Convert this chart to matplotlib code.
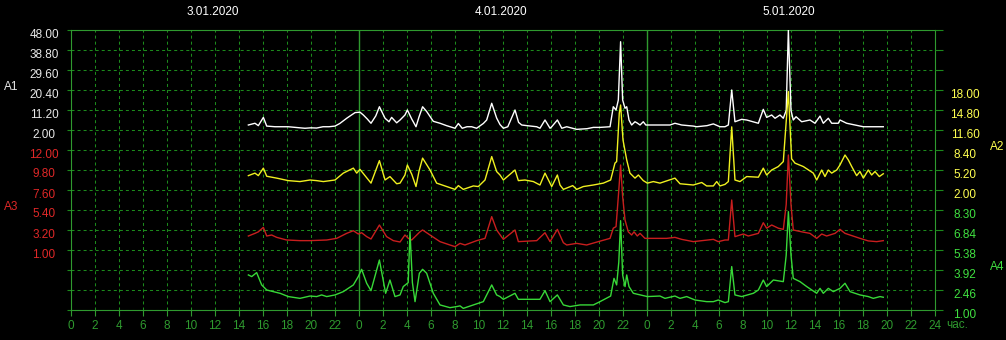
import matplotlib.pyplot as plt
from matplotlib.transforms import ScaledTranslation

# hours since 3.01.2020 00:00
a1_hours = [14.78, 15.33, 15.61, 16.03, 16.31, 17.0, 18.11, 19.08, 19.5, 20.0, 20.47, 21.0, 21.5, 22.0, 22.4,
            23.0, 23.67, 24.08, 24.36, 24.7, 25.0, 25.4, 25.7, 26.17, 26.5, 26.72, 27.14, 27.42, 27.83, 28.03,
            28.4, 28.75, 29.0, 29.3, 29.64, 30.19, 30.75, 31.3, 32.0, 32.28, 32.6, 33.0, 33.39, 33.8, 34.36,
            34.64, 35.06, 35.47, 35.75, 36.03, 36.4, 37.0, 37.3, 37.56, 38.0, 38.81, 39.08, 39.5, 39.92, 40.06,
            40.53, 40.9, 41.31, 42.14, 43.0, 43.53, 44.08, 44.92, 45.19, 45.42, 45.61, 45.8, 45.97, 46.17,
            46.31, 46.5, 46.72, 47.0, 47.19, 47.42, 47.69, 47.9, 48.03, 49.0, 49.92, 50.33, 50.89, 51.86,
            52.14, 53.0, 53.53, 54.08, 54.5, 54.78, 55.06, 55.33, 55.89, 56.31, 57.28, 57.69, 57.97, 58.39,
            58.67, 59.08, 59.36, 59.6, 59.78, 60.0, 60.19, 60.42, 60.89, 61.58, 62.0, 62.42, 62.69, 63.11,
            63.39, 63.94, 64.08, 64.64, 66.03, 67.69]
a1_values = [4.3, 5.1, 4.0, 7.8, 3.8, 3.5, 3.5, 3.0, 2.8, 3.0, 2.9, 3.5, 3.5, 3.8, 5.0,
             7.5, 10.0, 10.2, 8.9, 7.0, 5.1, 8.5, 12.7, 7.4, 5.8, 7.8, 5.3, 6.6, 8.9, 11.2,
             7.0, 3.5, 8.0, 12.7, 10.5, 6.0, 5.1, 4.0, 2.8, 5.0, 2.8, 3.5, 3.5, 2.8, 5.0,
             6.6, 14.3, 7.5, 4.5, 2.8, 3.5, 11.2, 5.5, 4.3, 4.0, 3.5, 2.8, 6.6, 2.8, 3.5,
             6.6, 2.8, 3.5, 2.3, 2.6, 3.2, 3.2, 3.5, 12.7, 11.2, 15.8, 42.6, 15.8, 12.0,
             12.7, 6.6, 4.3, 5.8, 5.2, 4.3, 5.8, 4.3, 4.3, 4.3, 4.3, 5.1, 4.3, 3.8,
             3.5, 4.0, 4.8, 3.5, 3.5, 4.3, 20.4, 5.8, 6.9, 6.6, 5.1, 11.5, 7.8, 8.9,
             7.4, 8.9, 7.4, 11.0, 48.0, 11.0, 6.6, 8.1, 5.8, 6.6, 5.1, 8.4, 5.1, 7.4,
             5.1, 5.1, 6.6, 5.1, 3.5, 3.5]

a2_hours = [14.78, 15.33, 15.61, 16.03, 16.31, 17.14, 18.11, 19.08, 19.92, 20.47, 21.03, 22.0, 22.69, 23.53,
            23.81, 24.08, 25.0, 25.7, 26.17, 26.58, 27.14, 27.42, 27.83, 28.03, 28.4, 28.75, 29.0, 29.3,
            29.92, 30.47, 31.31, 32.0, 32.28, 32.69, 33.53, 33.94, 34.5, 35.06, 35.47, 35.75, 36.03, 37.0,
            37.28, 37.83, 38.53, 39.08, 39.5, 40.06, 40.53, 40.75, 41.03, 41.81, 42.14, 42.69, 43.53, 44.36,
            44.97, 45.33, 45.47, 45.69, 45.8, 46.0, 46.31, 46.58, 47.0, 47.28, 47.69, 48.03, 48.53, 49.08,
            50.33, 50.75, 51.86, 52.56, 52.97, 53.53, 53.81, 54.08, 54.5, 54.78, 55.06, 55.33, 55.75, 56.31,
            57.28, 57.69, 57.97, 58.39, 58.94, 59.36, 59.78, 60.05, 60.33, 61.03, 61.86, 62.14, 62.56, 62.83,
            63.11, 63.39, 63.81, 64.08, 64.5, 64.78, 65.06, 65.47, 65.75, 66.03, 66.44, 66.72, 67.0, 67.36,
            67.69]
a2_values = [4.3, 4.7, 4.3, 5.5, 4.2, 3.9, 3.5, 3.35, 3.6, 3.5, 3.35, 3.6, 4.7, 5.5,
             4.7, 5.3, 3.1, 6.7, 3.6, 4.15, 3.0, 3.1, 4.4, 6.0, 4.5, 2.55, 5.0, 7.1,
             5.2, 3.1, 2.55, 2.1, 2.7, 2.1, 2.65, 2.55, 3.6, 7.35, 4.95, 4.4, 3.6, 5.2,
             3.5, 3.6, 3.35, 2.8, 4.7, 2.55, 4.4, 2.8, 2.1, 2.7, 2.1, 2.55, 2.8, 3.1,
             3.6, 6.3, 6.55, 14.3, 15.6, 10.0, 6.8, 4.7, 3.9, 4.4, 3.5, 3.1, 3.35, 3.1,
             3.9, 3.0, 2.8, 3.2, 2.65, 2.65, 3.35, 2.65, 2.9, 3.35, 12.1, 3.6, 3.35, 4.15,
             4.05, 5.5, 4.4, 5.2, 5.75, 6.55, 17.75, 7.0, 6.3, 5.75, 4.7, 3.6, 5.2, 4.15,
             5.2, 4.7, 5.2, 6.0, 7.6, 6.8, 5.75, 4.3, 4.95, 3.9, 5.2, 4.4, 4.95, 4.15,
             4.6]

a3_hours = [14.78, 15.33, 15.61, 16.03, 16.31, 16.72, 17.14, 17.97, 19.08, 19.92, 21.31, 22.14, 22.97, 23.53,
            23.94, 24.22, 24.64, 25.0, 25.7, 26.3, 26.86, 27.42, 27.83, 28.11, 28.39, 29.08, 29.3, 29.92,
            30.75, 31.58, 32.0, 32.42, 32.83, 33.81, 34.5, 35.06, 35.47, 36.03, 37.0, 37.28, 38.81, 39.5,
            39.92, 40.53, 41.03, 41.31, 42.14, 42.97, 43.94, 44.92, 45.19, 45.42, 45.61, 45.8, 45.97, 46.17,
            46.44, 46.72, 46.92, 47.19, 47.42, 47.83, 49.64, 50.33, 50.89, 51.86, 53.53, 53.94, 54.5, 54.78,
            55.06, 55.33, 56.03, 56.44, 57.28, 57.69, 57.97, 58.39, 58.94, 59.36, 59.6, 59.78, 60.0, 60.19,
            60.89, 61.58, 62.14, 62.56, 62.97, 63.67, 64.08, 64.5, 65.75, 66.44, 67.14, 67.69]
a3_values = [2.54, 2.83, 3.0, 3.49, 2.54, 2.65, 2.39, 2.1, 2.03, 2.03, 2.1, 2.28, 2.83, 3.12,
             2.76, 2.9, 2.47, 2.21, 3.75, 2.47, 2.03, 1.88, 2.65, 2.28, 2.1, 3.0, 3.2, 2.65,
             1.92, 1.55, 1.37, 1.73, 1.55, 2.03, 2.28, 4.67, 3.2, 2.17, 3.2, 1.92, 2.03, 2.9,
             1.92, 3.27, 1.8, 1.55, 1.73, 1.55, 1.92, 2.28, 3.4, 3.57, 6.87, 10.35, 6.87, 4.3,
             3.0, 2.65, 3.0, 2.54, 2.83, 2.28, 2.28, 2.39, 2.17, 1.92, 2.17, 1.92, 2.1, 2.1,
             6.5, 2.47, 2.76, 2.54, 2.83, 4.0, 3.4, 3.75, 3.4, 3.27, 6.0, 11.45, 6.0, 3.2,
             3.0, 2.83, 2.28, 2.76, 2.54, 2.83, 3.27, 2.83, 2.28, 2.0, 1.92, 2.03]

a4_hours = [14.78, 15.06, 15.47, 15.89, 16.31, 16.86, 17.42, 18.11, 19.08, 19.92, 20.47, 20.89, 21.31, 22.0,
            22.69, 23.53, 23.94, 24.22, 24.64, 25.0, 25.7, 26.22, 26.58, 27.0, 27.42, 27.69, 28.1, 28.25,
            28.45, 28.67, 29.03, 29.3, 29.64, 30.19, 30.75, 31.58, 32.14, 32.42, 32.69, 33.53, 34.36, 35.06,
            35.47, 35.75, 36.03, 37.0, 37.28, 39.08, 39.5, 39.92, 40.53, 41.03, 41.58, 42.42, 43.53, 44.08,
            44.97, 45.25, 45.47, 45.65, 45.8, 45.97, 46.17, 46.31, 46.5, 46.86, 48.03, 49.08, 49.5, 50.33,
            50.75, 51.31, 52.0, 52.97, 53.53, 53.94, 54.5, 54.78, 55.06, 55.33, 55.89, 56.86, 57.28, 57.69,
            57.97, 58.53, 59.36, 59.6, 59.78, 60.0, 60.19, 60.75, 61.31, 62.14, 62.42, 62.69, 63.11, 63.53,
            64.08, 64.5, 64.92, 65.75, 66.44, 66.86, 67.42, 67.69]
a4_values = [3.56, 3.44, 3.73, 2.83, 2.46, 2.34, 2.22, 1.98, 1.85, 2.02, 1.98, 2.1, 1.98, 2.1,
             2.34, 2.83, 3.44, 3.97, 2.95, 2.41, 4.65, 2.22, 3.19, 1.98, 2.1, 2.71, 3.0, 6.72,
             3.0, 1.61, 3.68, 3.97, 3.68, 2.22, 1.37, 1.17, 1.25, 1.3, 1.12, 1.37, 1.61, 2.83,
             2.1, 1.98, 1.78, 2.22, 1.78, 1.78, 2.41, 1.61, 2.1, 1.37, 1.25, 1.37, 1.37, 1.61,
             2.02, 3.31, 2.83, 4.5, 7.52, 3.56, 2.71, 3.56, 2.71, 2.22, 1.98, 2.02, 1.85, 2.02,
             1.85, 1.98, 1.73, 1.61, 1.61, 1.73, 1.54, 1.61, 4.17, 2.1, 1.98, 2.22, 2.46, 3.19,
             2.71, 3.19, 3.07, 5.0, 8.18, 5.0, 3.31, 3.07, 2.71, 2.22, 2.58, 2.22, 2.58, 2.34,
             2.58, 2.95, 2.34, 2.1, 1.98, 1.85, 1.98, 1.93]

a1_ticks = [2.00, 11.20, 20.40, 29.60, 38.80, 48.00]
a2_ticks = [2.00, 5.20, 8.40, 11.60, 14.80, 18.00]
a3_ticks = [1.00, 3.20, 5.40, 7.60, 9.80, 12.00]
a4_ticks = [1.00, 2.46, 3.92, 5.38, 6.84, 8.30]
dates = ["3.01.2020", "4.01.2020", "5.01.2020"]
hour_labels = [str(h) for h in range(0, 24, 2)] * 3 + ["24"]

FONT = "Liberation Sans"
GREEN_AX = "#2f9a2f"
GREEN_GRID = "#1c8a1c"

fig = plt.figure(figsize=(10.06, 3.4), dpi=100, facecolor="black")
ax = fig.add_axes([71 / 1006, 30 / 340, 864 / 1006, 280 / 340])
ax.set_facecolor("black")
ax.set_xlim(0, 72)
ax.set_ylim(0, 14)
for s in ax.spines.values():
    s.set_color(GREEN_AX)
ax.set_xticks(range(0, 73, 2))
ax.set_xticklabels(hour_labels, fontfamily=FONT, fontsize=8.5, color=GREEN_AX)
ax.set_yticks(range(0, 15))
ax.tick_params(axis="x", colors=GREEN_AX, length=4, pad=3)
ax.tick_params(axis="y", colors=GREEN_GRID, length=3, labelleft=False)
ax.grid(True, color=GREEN_GRID, lw=0.75, linestyle=(0, (2.9, 2.9)))
for d in (24, 48):
    ax.axvline(d, color=GREEN_AX, lw=1.0)

# right side tick stubs
axr = ax.twinx()
axr.set_ylim(0, 14)
axr.set_yticks(range(0, 15))
axr.tick_params(axis="y", colors=GREEN_GRID, length=6, labelright=False)
for s in axr.spines.values():
    s.set_visible(False)

for i, d in enumerate(dates):
    ax.text(12 + 24 * i - 0.2, 14.9, d, color="white", ha="center", va="center",
            fontfamily=FONT, fontsize=8.5)
ax.text(72.9, -0.75, "час.", color=GREEN_AX, ha="left", va="center", fontfamily=FONT, fontsize=8.5)

series = [
    (a1_hours, a1_values, (-80.8, 48.0), a1_ticks, "left", "#ffffff", "#e8e8e8"),
    (a2_hours, a2_values, (-17.2, 27.6), a2_ticks, "right", "#f0f020", "#ffff50"),
    (a3_hours, a3_values, (-5.6, 25.2), a3_ticks, "left", "#c81e1e", "#e02828"),
    (a4_hours, a4_values, (1.0, 21.44), a4_ticks, "right", "#38d838", "#40e040"),
]
shift = ScaledTranslation(0, -3 / 100, fig.dpi_scale_trans)
for hrs, vals, lim, ticks, side, lc, tc in series:
    a = ax.twinx()
    a.set_ylim(*lim)
    a.plot(hrs, vals, color=lc, lw=1.0)
    a.set_yticks(ticks)
    a.set_yticklabels([f"{t:.2f}" for t in ticks], fontfamily=FONT, fontsize=8.5)
    a.yaxis.set_ticks_position(side)
    pad = 19.4 if side == "left" else 21.6
    a.tick_params(axis="y", length=0, pad=pad, labelcolor=tc,
                  labelleft=(side == "left"), labelright=(side == "right"))
    for lbl in a.get_yticklabels():
        lbl.set_ha("center")
        lbl.set_transform(lbl.get_transform() + shift)
    for s in a.spines.values():
        s.set_visible(False)

fig.text(11 / 1006, 1 - 87 / 340, "A1", color="#e8e8e8", ha="center", va="center", fontfamily=FONT, fontsize=8.5)
fig.text(11 / 1006, 1 - 207 / 340, "A3", color="#e02828", ha="center", va="center", fontfamily=FONT, fontsize=8.5)
fig.text(997 / 1006, 1 - 147 / 340, "A2", color="#ffff50", ha="center", va="center", fontfamily=FONT, fontsize=8.5)
fig.text(997 / 1006, 1 - 267 / 340, "A4", color="#40e040", ha="center", va="center", fontfamily=FONT, fontsize=8.5)

fig.savefig("out.png", dpi=100, facecolor="black")
